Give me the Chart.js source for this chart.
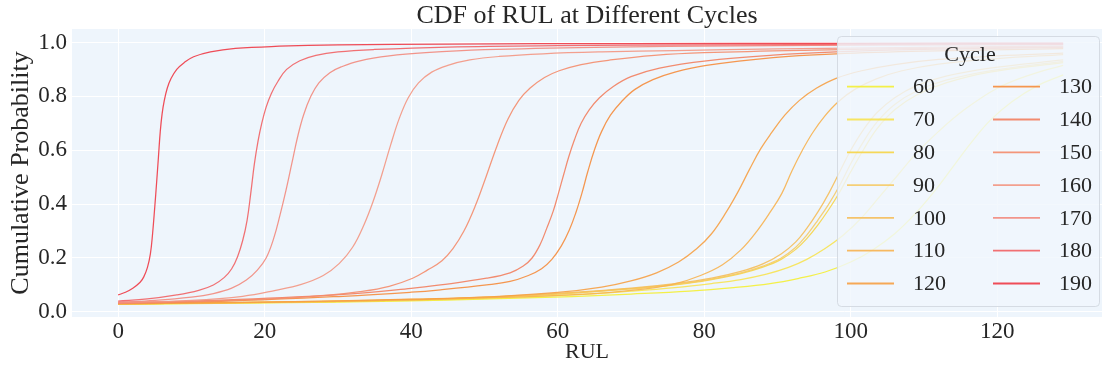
<!DOCTYPE html>
<html>
<head>
<meta charset="utf-8">
<script src="https://cdn.jsdelivr.net/npm/chart.js@4.4.1/dist/chart.umd.min.js"></script>
<style>
  html, body { margin: 0; padding: 0; background: #ffffff; }
  #wrap { width: 1107px; height: 369px; position: relative; }
</style>
</head>
<body>
<div id="wrap"><canvas id="grafico"></canvas></div>
<script>
// valores
const cycles = [60, 70, 80, 90, 100, 110, 120, 130, 140, 150, 160, 170, 180, 190];
const xTicks = [0, 20, 40, 60, 80, 100, 120];
const yTicks = [0, 0.2, 0.4, 0.6, 0.8, 1.0];

const rul60 = [0, 20, 40, 52, 62, 70, 78, 84, 89, 93, 96.5, 100, 103, 106, 109, 111.5, 114, 116.5, 119, 122, 125.5, 129];
const cdf60 = [0.028, 0.033, 0.041, 0.049, 0.057, 0.066, 0.077, 0.09, 0.105, 0.125, 0.148, 0.185, 0.23, 0.29, 0.37, 0.45, 0.54, 0.63, 0.71, 0.78, 0.84, 0.88];

const rul70 = [0, 20, 40, 52, 62, 70, 76, 81, 85, 88.5, 91.5, 94, 96.5, 99, 101.5, 104, 106.5, 109, 112, 115.5, 120, 124.5, 129];
const cdf70 = [0.029, 0.034, 0.043, 0.052, 0.063, 0.077, 0.09, 0.105, 0.12, 0.14, 0.165, 0.195, 0.235, 0.285, 0.35, 0.43, 0.51, 0.59, 0.67, 0.75, 0.83, 0.88, 0.915];

const rulBundle = [0, 20, 40, 52, 62, 70, 76, 81, 85, 88, 90.5, 92.5, 94, 95.5, 97, 98.5, 100, 101.7, 103.6, 106, 109, 113, 119, 129];
const cdf80 = [0.03, 0.035, 0.045, 0.056, 0.07, 0.085, 0.1, 0.12, 0.142, 0.166, 0.195, 0.232, 0.272, 0.322, 0.38, 0.445, 0.52, 0.6, 0.68, 0.75, 0.805, 0.85, 0.89, 0.925];
const cdf90 = [0.03, 0.035, 0.045, 0.056, 0.07, 0.086, 0.102, 0.122, 0.145, 0.17, 0.2, 0.24, 0.285, 0.34, 0.4, 0.47, 0.55, 0.63, 0.705, 0.77, 0.82, 0.86, 0.895, 0.93];
const cdf100 = [0.031, 0.036, 0.046, 0.057, 0.072, 0.088, 0.105, 0.125, 0.15, 0.178, 0.215, 0.26, 0.31, 0.37, 0.44, 0.52, 0.6, 0.675, 0.74, 0.795, 0.84, 0.875, 0.905, 0.935];

const rul110 = [0, 20, 40, 55, 65, 72, 76, 79.5, 82.5, 85, 87.2, 89, 90.6, 92, 93.4, 94.8, 96.4, 98.3, 100.5, 103.5, 107, 112, 120, 129];
const cdf110 = [0.03, 0.035, 0.045, 0.056, 0.068, 0.085, 0.104, 0.135, 0.175, 0.23, 0.3, 0.37, 0.44, 0.525, 0.6, 0.665, 0.725, 0.78, 0.825, 0.865, 0.895, 0.92, 0.94, 0.955];

const rul120 = [0, 20, 40, 52, 60, 66, 70, 73.5, 76.5, 79, 81, 83, 84.7, 86.2, 87.7, 89.2, 91, 93, 95.3, 98, 101.5, 106, 112, 120, 129];
const cdf120 = [0.03, 0.036, 0.047, 0.058, 0.072, 0.092, 0.115, 0.145, 0.185, 0.235, 0.29, 0.37, 0.45, 0.53, 0.605, 0.665, 0.73, 0.785, 0.83, 0.867, 0.895, 0.918, 0.937, 0.95, 0.96];

const rul130 = [0, 15, 30.7, 40, 44, 50.3, 53.5, 56, 57.8, 59.2, 60.5, 61.6, 62.5, 63.3, 64.1, 65, 66, 67.2, 68.7, 70.5, 73, 76, 80.3, 89.4, 98, 110, 129];
const cdf130 = [0.032, 0.04, 0.058, 0.073, 0.082, 0.1, 0.113, 0.135, 0.16, 0.195, 0.245, 0.305, 0.37, 0.44, 0.52, 0.6, 0.67, 0.73, 0.78, 0.825, 0.862, 0.89, 0.915, 0.944, 0.958, 0.968, 0.977];

const rul140 = [0, 15, 30.7, 40, 44, 50.3, 53.5, 55.3, 56.5, 57.6, 58.5, 59.4, 60.1, 60.8, 61.5, 62.3, 63.2, 64.3, 65.7, 67.5, 70, 73.9, 80.3, 89.4, 98, 110, 129];
const cdf140 = [0.033, 0.045, 0.065, 0.087, 0.1, 0.125, 0.145, 0.17, 0.2, 0.25, 0.31, 0.375, 0.44, 0.508, 0.575, 0.64, 0.7, 0.75, 0.795, 0.835, 0.873, 0.905, 0.932, 0.953, 0.965, 0.974, 0.982];

const rul150 = [0, 10, 20, 28, 33, 37, 40.2, 42.2, 44.2, 45.7, 47.2, 48.7, 50.2, 51.7, 53.2, 54.7, 56.2, 58.2, 60.2, 63.2, 67.2, 73.2, 80, 95, 110, 129];
const cdf150 = [0.032, 0.038, 0.047, 0.06, 0.075, 0.095, 0.125, 0.155, 0.19, 0.235, 0.3, 0.39, 0.5, 0.615, 0.715, 0.785, 0.83, 0.87, 0.895, 0.918, 0.935, 0.952, 0.962, 0.972, 0.978, 0.984];

const rul160 = [0, 10, 17, 21.5, 25, 28, 30.2, 32, 33.5, 34.8, 36, 37.2, 38.4, 39.6, 41, 42.8, 45, 48, 52, 58, 66, 76, 90, 110, 129];
const cdf160 = [0.034, 0.043, 0.058, 0.08, 0.102, 0.135, 0.18, 0.24, 0.32, 0.41, 0.51, 0.62, 0.72, 0.795, 0.85, 0.89, 0.915, 0.935, 0.948, 0.958, 0.965, 0.97, 0.976, 0.982, 0.986];

const rul170 = [0, 5, 10, 13, 15.5, 17.5, 19, 20.2, 21.2, 22.1, 22.9, 23.7, 24.5, 25.3, 26.3, 27.4, 28.9, 30.5, 33, 37, 42, 50, 65, 85, 105, 129];
const cdf170 = [0.036, 0.043, 0.055, 0.068, 0.088, 0.118, 0.155, 0.2, 0.27, 0.36, 0.45, 0.55, 0.65, 0.73, 0.8, 0.85, 0.888, 0.91, 0.932, 0.95, 0.962, 0.973, 0.982, 0.987, 0.99, 0.992];

const rul180 = [0, 4, 8, 11, 13, 14.5, 15.5, 16.3, 17, 17.6, 18.1, 18.6, 19.1, 19.6, 20.2, 20.9, 21.8, 23, 24.8, 27, 30, 35, 45, 60, 80, 105, 129];
const cdf180 = [0.04, 0.048, 0.063, 0.08, 0.1, 0.128, 0.16, 0.205, 0.265, 0.34, 0.44, 0.55, 0.635, 0.7, 0.76, 0.81, 0.855, 0.9, 0.932, 0.952, 0.965, 0.974, 0.983, 0.988, 0.991, 0.993, 0.994];

const rul190 = [0, 1, 2, 3, 3.5, 4, 4.4, 4.7, 5, 5.25, 5.5, 5.75, 6, 6.3, 6.7, 7.2, 8, 9, 10.3, 12.6, 16, 22, 30, 45, 70, 100, 129];
const cdf190 = [0.063, 0.073, 0.088, 0.11, 0.13, 0.165, 0.215, 0.29, 0.39, 0.48, 0.575, 0.67, 0.735, 0.785, 0.83, 0.865, 0.9, 0.925, 0.947, 0.965, 0.978, 0.986, 0.991, 0.994, 0.996, 0.997, 0.998];

const curvas = [
  [rul60, cdf60], [rul70, cdf70], [rulBundle, cdf80], [rulBundle, cdf90], [rulBundle, cdf100],
  [rul110, cdf110], [rul120, cdf120], [rul130, cdf130], [rul140, cdf140], [rul150, cdf150],
  [rul160, cdf160], [rul170, cdf170], [rul180, cdf180], [rul190, cdf190]
];

const cores = [
  "rgba(245,238,40,0.85)", "rgba(248,226,70,0.85)", "rgba(247,210,60,0.85)", "rgba(246,200,95,0.85)",
  "rgba(245,190,90,0.9)", "rgba(247,178,80,0.9)", "rgba(246,160,68,0.9)", "rgba(245,140,60,0.9)",
  "rgba(242,128,95,0.9)", "rgba(244,140,108,0.9)", "rgba(243,150,130,0.9)", "rgba(242,138,125,0.9)",
  "rgba(241,98,100,0.9)", "rgba(238,66,78,0.95)"
];

const fonte = "'Liberation Serif', 'Times New Roman', serif";
const corTexto = "#262626";

const fundoPlot = {
  id: "fundoPlot",
  beforeDraw(chart) {
    const { ctx, chartArea: a } = chart;
    ctx.save();
    ctx.fillStyle = "#eef5fc";
    ctx.fillRect(a.left, a.top, a.right - a.left, a.bottom - a.top);
    ctx.restore();
  },
  afterDraw(chart) {
    // título centrado sobre a área do gráfico
    const { ctx, chartArea: a } = chart;
    ctx.save();
    ctx.font = "26px " + fonte;
    ctx.fillStyle = corTexto;
    ctx.textAlign = "center";
    ctx.textBaseline = "middle";
    ctx.fillText("CDF of RUL at Different Cycles", (a.left + a.right) / 2, 16);
    ctx.restore();
  }
};

// legenda em duas colunas, desenhada à mão
const legendaCiclos = {
  id: "legendaCiclos",
  afterDatasetsDraw(chart) {
    const ctx = chart.ctx;
    const x0 = 837.5, y0 = 36.5, w = 262, h = 270, r = 4;
    ctx.save();
    ctx.beginPath();
    ctx.moveTo(x0 + r, y0);
    ctx.lineTo(x0 + w - r, y0);
    ctx.arcTo(x0 + w, y0, x0 + w, y0 + r, r);
    ctx.lineTo(x0 + w, y0 + h - r);
    ctx.arcTo(x0 + w, y0 + h, x0 + w - r, y0 + h, r);
    ctx.lineTo(x0 + r, y0 + h);
    ctx.arcTo(x0, y0 + h, x0, y0 + h - r, r);
    ctx.lineTo(x0, y0 + r);
    ctx.arcTo(x0, y0, x0 + r, y0, r);
    ctx.closePath();
    ctx.fillStyle = "rgba(240,246,252,0.82)";
    ctx.fill();
    ctx.strokeStyle = "rgba(210,216,224,0.9)";
    ctx.lineWidth = 1;
    ctx.stroke();

    ctx.font = "22px " + fonte;
    ctx.fillStyle = corTexto;
    ctx.textAlign = "center";
    ctx.textBaseline = "middle";
    ctx.fillText("Cycle", 970, 55);

    ctx.textAlign = "left";
    chart.data.datasets.forEach((ds, i) => {
      const col = Math.floor(i / 7);
      const row = i % 7;
      const lx = col === 0 ? 847 : 993;
      const ly = 86.7 + row * 32.8;
      ctx.strokeStyle = ds.borderColor;
      ctx.lineWidth = 1.8;
      ctx.beginPath();
      ctx.moveTo(lx, ly);
      ctx.lineTo(lx + 47, ly);
      ctx.stroke();
      ctx.fillStyle = corTexto;
      ctx.fillText(ds.label, lx + 66, ly + 1);
    });
    ctx.restore();
  }
};

new Chart(document.getElementById("grafico"), {
  type: "line",
  data: {
    datasets: cycles.map((c, i) => ({
      label: String(c),
      data: curvas[i][0].map((x, k) => ({ x: x, y: curvas[i][1][k] })),
      borderColor: cores[i],
      borderWidth: 1.25,
      pointRadius: 0,
      fill: false,
      tension: 0.4,
      order: cycles.length - i
    }))
  },
  options: {
    responsive: true,
    maintainAspectRatio: false,
    animation: false,
    layout: { padding: { left: 0, right: 5, top: 29, bottom: 0 } },
    plugins: {
      legend: { display: false },
      tooltip: { enabled: false },
      title: { display: false }
    },
    scales: {
      x: {
        type: "linear",
        min: -6.3,
        max: 134.3,
        afterBuildTicks: s => { s.ticks = xTicks.map(v => ({ value: v })); },
        afterFit: s => { s.height = 52; },
        grid: { color: "#ffffff", lineWidth: 1, drawTicks: false },
        border: { display: false },
        ticks: { color: corTexto, font: { family: fonte, size: 23 }, padding: 1, maxRotation: 0 },
        title: {
          display: true, text: "RUL", color: corTexto,
          font: { family: fonte, size: 22 }, padding: { top: 0, bottom: 4 }
        }
      },
      y: {
        min: -0.019,
        max: 1.05,
        afterBuildTicks: s => { s.ticks = yTicks.map(v => ({ value: v })); },
        afterFit: s => { s.width = 72; },
        grid: { color: "#ffffff", lineWidth: 1, drawTicks: false },
        border: { display: false },
        ticks: {
          color: corTexto, font: { family: fonte, size: 23 }, padding: 5,
          callback: v => v.toFixed(1)
        },
        title: {
          display: true, text: "Cumulative Probability", color: corTexto,
          font: { family: fonte, size: 26 }, padding: { top: 6, bottom: 0 }
        }
      }
    }
  },
  plugins: [fundoPlot, legendaCiclos]
});
</script>
</body>
</html>
